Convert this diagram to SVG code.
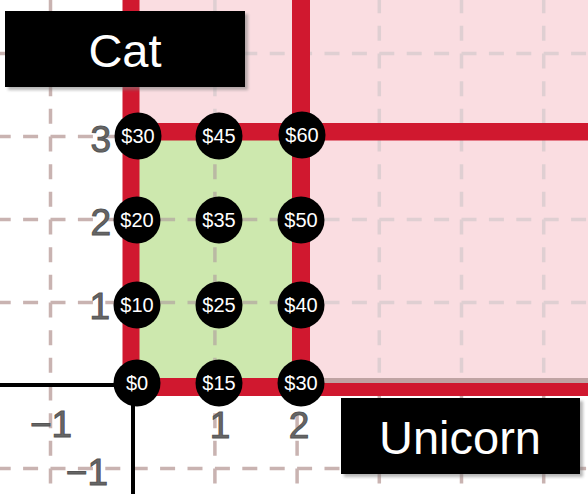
<svg xmlns="http://www.w3.org/2000/svg" xmlns:xlink="http://www.w3.org/1999/xlink" width="588" height="494" viewBox="0 0 588 494">
<style>
.red{stroke:#d0182f;fill:none}
.dot circle{fill:#000}
.dot text{fill:#fff;font-family:"Liberation Sans",Arial,sans-serif;font-size:20px;text-anchor:middle}
.tick{fill:#666;stroke:#555;stroke-width:1;font-family:"Liberation Sans",Arial,sans-serif;font-size:37px}
.lbl rect.box{fill:#000}
.lbl rect.sh{fill:#7a7a7a;opacity:0.55}
.lbl text{fill:#fff;font-family:"Liberation Sans",Arial,sans-serif;font-size:47px;text-anchor:middle}
</style>
<defs>
<g id="grid" fill="none" stroke-width="3.5">
<path stroke-dasharray="15 12.4" d="M-31.7 53.5H600M-31.7 136.5H600M-31.7 219.5H600M-31.7 302.5H600M-31.7 468.5H600"/>
<path stroke-dasharray="15 12.667" d="M50.5 -29.5V500M214.9 -29.5V500M297.1 -29.5V500M379.3 -29.5V500M461.5 -29.5V500M543.7 -29.5V500"/>
</g>
<clipPath id="pinkclip"><rect x="139" y="0" width="449" height="123"/><rect x="310" y="123" width="278" height="256"/></clipPath>
<clipPath id="greenclip"><rect x="139" y="140" width="153" height="238"/></clipPath>
<filter id="blur" x="-10%" y="-10%" width="120%" height="130%"><feGaussianBlur stdDeviation="1.5"/></filter>
</defs>
<rect width="588" height="494" fill="#fff"/>
<g id="gridlines">
<use xlink:href="#grid" stroke="#c9b3b1"/>
</g>
<g id="regions">
<rect x="131" y="0" width="457" height="387" fill="#fadde1"/>
<rect x="131" y="131" width="170" height="256" fill="#cde8ae"/>
<use xlink:href="#grid" stroke="#dfcfd2" clip-path="url(#pinkclip)"/>
<use xlink:href="#grid" stroke="#bab9a4" clip-path="url(#greenclip)"/>
</g>
<g id="axes">
<line x1="0" y1="385" x2="130" y2="385" stroke="#000" stroke-width="4"/>
<line x1="133" y1="395" x2="133" y2="494" stroke="#000" stroke-width="4"/>
</g>
<g id="connectors">
<line class="red" x1="131" y1="0" x2="131" y2="396" stroke-width="17"/>
<line class="red" x1="301" y1="0" x2="301" y2="396" stroke-width="18"/>
<line class="red" x1="122.5" y1="131.75" x2="588" y2="131.75" stroke-width="17.5"/>
<line class="red" x1="122.5" y1="387" x2="588" y2="387" stroke-width="18"/>
<line x1="310" y1="380.5" x2="588" y2="380.5" stroke="#bfa3a3" stroke-width="5"/>
</g>
<g id="ticks">
<text class="tick" x="111" y="152" text-anchor="end">3</text>
<text class="tick" x="111" y="235" text-anchor="end">2</text>
<text class="tick" x="110" y="319" text-anchor="end">1</text>
<text class="tick" x="51" y="437" text-anchor="middle">−1</text>
<text class="tick" x="220" y="438" text-anchor="middle">1</text>
<text class="tick" x="299" y="438" text-anchor="middle">2</text>
<text class="tick" x="108" y="485" text-anchor="end">−1</text>
</g>
<g id="n30a" class="dot"><circle cx="138" cy="136" r="23.5"/><text x="138" y="143">$30</text></g>
<g id="n45" class="dot"><circle cx="219" cy="136" r="23.5"/><text x="219" y="143">$45</text></g>
<g id="n60" class="dot"><circle cx="302" cy="135" r="23.5"/><text x="302" y="142">$60</text></g>
<g id="n20" class="dot"><circle cx="137" cy="220" r="23.5"/><text x="137" y="227">$20</text></g>
<g id="n35" class="dot"><circle cx="219" cy="220" r="23.5"/><text x="219" y="227">$35</text></g>
<g id="n50" class="dot"><circle cx="301" cy="220" r="23.5"/><text x="301" y="227">$50</text></g>
<g id="n10" class="dot"><circle cx="137" cy="305" r="23.5"/><text x="137" y="312">$10</text></g>
<g id="n25" class="dot"><circle cx="219" cy="305" r="23.5"/><text x="219" y="312">$25</text></g>
<g id="n40" class="dot"><circle cx="301" cy="305" r="23.5"/><text x="301" y="312">$40</text></g>
<g id="n0" class="dot"><circle cx="137" cy="383" r="23.5"/><text x="137" y="390">$0</text></g>
<g id="n15" class="dot"><circle cx="219" cy="383" r="23.5"/><text x="219" y="390">$15</text></g>
<g id="n30b" class="dot"><circle cx="301" cy="383" r="23.5"/><text x="301" y="390">$30</text></g>
<g id="cat" class="lbl">
<rect class="sh" x="8" y="14" width="240" height="76" filter="url(#blur)"/>
<rect class="box" x="5" y="11" width="240" height="76"/>
<text x="125" y="67">Cat</text>
</g>
<g id="unicorn" class="lbl">
<rect class="sh" x="344" y="401" width="239" height="76" filter="url(#blur)"/>
<rect class="box" x="341" y="398" width="239" height="76"/>
<text x="460" y="454">Unicorn</text>
</g>
</svg>
